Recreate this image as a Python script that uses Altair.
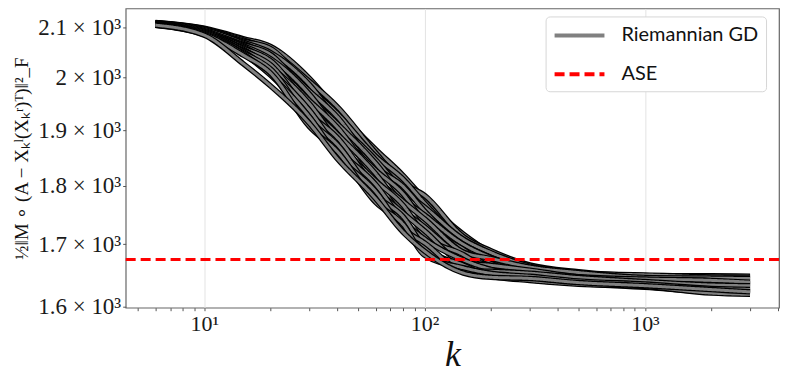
import altair as alt
import pandas as pd

# ---------------- data ----------------
K = [6, 10, 15, 20, 30, 40, 60, 80, 100, 150, 200, 300, 500, 1000, 2000, 3000]

run_01 = [2111, 2099, 2078, 2062, 1999, 1938.6, 1865, 1818, 1776.3, 1717, 1686.2, 1661, 1651, 1647.3, 1643, 1642.2]
run_02 = [2109.8, 2097.1, 2075.6, 2053.9, 1992.9, 1945, 1858.7, 1804.9, 1783, 1712.7, 1689.4, 1666, 1655, 1648.7, 1648.5, 1648]
run_03 = [2110.6, 2098.1, 2073.3, 2057.9, 1980.6, 1932.2, 1852.5, 1811.5, 1769.5, 1704.2, 1676.6, 1656, 1648.3, 1642, 1637.5, 1636.4]
run_04 = [2109, 2095.3, 2070.9, 2049.8, 1986.7, 1919.4, 1846.2, 1791.9, 1762.8, 1708.5, 1686.2, 1664.3, 1652.3, 1650, 1646.7, 1646.1]
run_05 = [2110.2, 2096.2, 2068.6, 2041.6, 1974.5, 1925.8, 1833.7, 1798.4, 1756.1, 1695.7, 1668.6, 1651, 1643, 1636.7, 1632, 1630.6]
run_06 = [2108.2, 2093.4, 2066.2, 2045.7, 1962.2, 1913, 1839.9, 1778.8, 1749.3, 1699.9, 1678.2, 1659.3, 1649.7, 1644.7, 1639.3, 1640.3]
run_07 = [2109.4, 2094.3, 2063.9, 2037.6, 1968.3, 1900.2, 1827.4, 1785.3, 1735.9, 1691.4, 1662.2, 1646, 1639, 1634, 1624.7, 1624.8]
run_08 = [2107.4, 2091.5, 2061.5, 2029.4, 1956.1, 1906.6, 1814.9, 1772.3, 1742.6, 1687.1, 1676.6, 1662.7, 1653.7, 1646, 1644.8, 1644.1]
run_09 = [2108.6, 2092.5, 2059.1, 2033.5, 1943.8, 1893.8, 1821.1, 1759.2, 1729.1, 1678.6, 1665.4, 1654.3, 1644.3, 1640.7, 1635.7, 1634.5]
run_10 = [2106.6, 2089.7, 2056.8, 2021.3, 1949.9, 1881, 1808.6, 1765.7, 1715.7, 1682.9, 1655.8, 1642.7, 1636.3, 1630, 1622.8, 1620.9]
run_11 = [2107.8, 2090.6, 2054.4, 2025.4, 1931.5, 1887.4, 1796.1, 1752.7, 1722.4, 1670.1, 1665.4, 1657.7, 1647, 1643.3, 1641.2, 1638.3]
run_12 = [2105.8, 2087.8, 2052.1, 2013.1, 1937.7, 1868.2, 1802.3, 1739.6, 1708.9, 1674.3, 1659, 1649.3, 1641.7, 1638, 1630.2, 1628.7]
run_13 = [2107, 2088.7, 2049.7, 2017.2, 1919.3, 1874.6, 1783.5, 1746.1, 1695.5, 1665.8, 1647.8, 1641, 1635, 1631.3, 1621, 1619]
run_14 = [2105, 2085.9, 2047.4, 2005, 1925.4, 1855.4, 1789.8, 1726.5, 1702.2, 1657.3, 1655.8, 1652.7, 1645.7, 1639.3, 1633.8, 1632.5]
run_15 = [2106.2, 2086.9, 2045, 2009.1, 1907, 1861.8, 1771, 1733.1, 1682, 1661.5, 1652.6, 1647.7, 1640.3, 1635.3, 1628.3, 1626.7]
run_16 = [2105.4, 2085, 2028, 1984, 1913.1, 1849, 1777.3, 1720, 1688.7, 1653, 1646.2, 1644.3, 1637.7, 1632.7, 1626.5, 1622.9]

RUNS = [run_01, run_02, run_03, run_04, run_05, run_06, run_07, run_08,
        run_09, run_10, run_11, run_12, run_13, run_14, run_15, run_16]

ASE_VALUE = 1675
SERIES = ["Riemannian GD", "ASE"]

X_TICKS = [5, 6, 7, 8, 9, 10, 20, 30, 40, 50, 60, 70, 80, 90, 100,
           200, 300, 400, 500, 600, 700, 800, 900, 1000, 2000, 3000, 4000]
X_MAJOR = [10, 100, 1000]
X_LABELS = ["10¹", "10²", "10³"]
Y_TICKS = [1600, 1700, 1800, 1900, 2000, 2100]
Y_LABELS = ["1.6 × 10³", "1.7 × 10³", "1.8 × 10³", "1.9 × 10³", "2 × 10³", "2.1 × 10³"]

X_DOMAIN = [4.4, 4060]
Y_DOMAIN = [1598, 2140]

# ---------------- helpers ----------------
def label_expr(values, labels):
    expr = "''"
    for v, lab in reversed(list(zip(values, labels))):
        expr = f"datum.value == {v} ? '{lab}' : ({expr})"
    return expr

SERIF = "Liberation Serif"
major_test = " || ".join(f"datum.value == {v}" for v in X_MAJOR)

x_axis = alt.Axis(
    values=X_TICKS, labelExpr=label_expr(X_MAJOR, X_LABELS),
    grid=True, gridColor="#e3e3e3", gridWidth=1,
    gridOpacity={"condition": {"test": major_test, "value": 1}, "value": 0},
    domain=False, tickSize=3, tickColor="#555", tickWidth=1,
    labelFont=SERIF, labelFontSize=22, labelColor="#1a1a1a", labelPadding=3,
    labelOverlap=False, labelFlush=False,
    title="k", titleFont=SERIF, titleFontStyle="italic", titleFontWeight="normal",
    titleFontSize=36, titleColor="#111", titlePadding=3,
)
y_axis = alt.Axis(
    values=Y_TICKS, labelExpr=label_expr(Y_TICKS, Y_LABELS),
    grid=False, domain=False, tickSize=3, tickColor="#555", tickWidth=1,
    labelFont=SERIF, labelFontSize=23, labelColor="#1a1a1a", labelPadding=2,
    labelOverlap=False, labelFlush=False,
    title="½‖M ∘ (A − Xₖˡ(Xₖʳ)ᵀ)‖²_F", titleFont=SERIF, titleFontWeight="normal",
    titleFontSize=19, titleColor="#111", titlePadding=6,
)
x_scale = alt.Scale(type="log", domain=X_DOMAIN, nice=False)
y_scale = alt.Scale(type="log", domain=Y_DOMAIN, nice=False)

color_scale = alt.Scale(domain=SERIES, range=["#808080", "#ff0000"])
dash_scale = alt.Scale(domain=SERIES, range=[[1, 0], [10, 5]])
legend = alt.Legend(
    title=None, orient="none", legendX=421, legendY=8,
    symbolType="M-1,0L4,0", symbolSize=400, symbolStrokeWidth=4,
    labelFont="Lato", labelFontSize=20, labelColor="#111", labelOffset=45,
    padding=7, rowPadding=17, strokeColor="#d6d6d6", fillColor="white",
    cornerRadius=4,
)

layers = []
for i, vals in enumerate(RUNS):
    df = pd.DataFrame({"k": K, "value": vals, "series": SERIES[0]})
    base = alt.Chart(df)
    enc = dict(
        x=alt.X("k:Q", scale=x_scale, axis=x_axis),
        y=alt.Y("value:Q", scale=y_scale, axis=y_axis),
    )
    layers.append(base.mark_line(color="black", strokeWidth=5.5, interpolate="monotone").encode(**enc))
    layers.append(base.mark_line(strokeWidth=3, interpolate="monotone").encode(
        color=alt.Color("series:N", scale=color_scale, legend=legend),
        strokeDash=alt.StrokeDash("series:N", scale=dash_scale, legend=legend),
        **enc))

ase_df = pd.DataFrame({"value": [ASE_VALUE], "series": [SERIES[1]]})
ase = alt.Chart(ase_df).mark_rule(strokeWidth=3).encode(
    y=alt.Y("value:Q", scale=y_scale, axis=y_axis),
    color=alt.Color("series:N", scale=color_scale, legend=legend),
    strokeDash=alt.StrokeDash("series:N", scale=dash_scale, legend=legend),
)
layers.append(ase)

chart = alt.layer(*layers).properties(
    width=655, height=300,
    autosize=alt.AutoSizeParams(type="none"),
    padding={"left": 118, "top": 0, "right": 2, "bottom": 68},
).configure_view(stroke="#666", strokeWidth=1.2)

chart.save("out.html", embed_options={"renderer": "svg", "actions": False})
